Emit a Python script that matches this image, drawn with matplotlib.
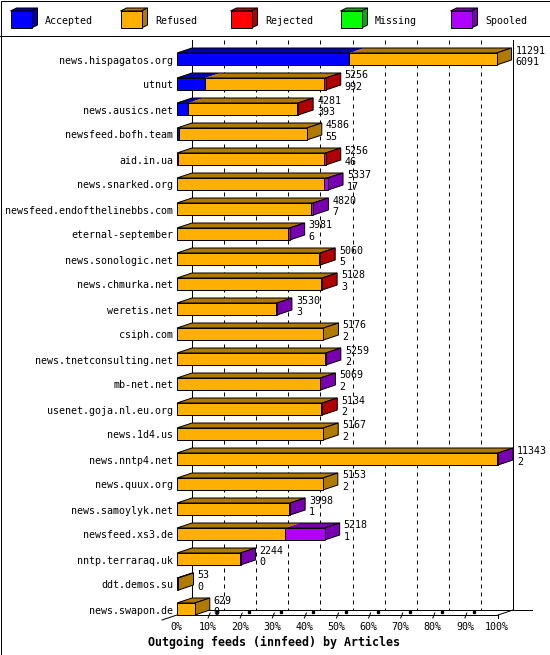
import numpy as np
import matplotlib
matplotlib.use("Agg")
import matplotlib.pyplot as plt
from matplotlib.patches import Polygon, Rectangle

feeds = ["news.hispagatos.org", "utnut", "news.ausics.net", "newsfeed.bofh.team",
         "aid.in.ua", "news.snarked.org", "newsfeed.endofthelinebbs.com",
         "eternal-september", "news.sonologic.net", "news.chmurka.net",
         "weretis.net", "csiph.com", "news.tnetconsulting.net", "mb-net.net",
         "usenet.goja.nl.eu.org", "news.1d4.us", "news.nntp4.net", "news.quux.org",
         "news.samoylyk.net", "newsfeed.xs3.de", "nntp.terraraq.uk",
         "ddt.demos.su", "news.swapon.de"]
offered = [11291, 5256, 4281, 4586, 5256, 5337, 4820, 3981, 5060, 5128, 3530,
           5176, 5259, 5069, 5134, 5167, 11343, 5153, 3998, 5218, 2244, 53, 629]
accepted = [6091, 992, 393, 55, 46, 17, 7, 6, 5, 3, 3, 2, 2, 2, 2, 2, 2, 2,
            1, 1, 0, 0, 0]
refused = [5200, 4204, 3833, 4531, 5140, 5180, 4743, 3925, 5025, 5095, 3497,
           5174, 5227, 5037, 5102, 5165, 11311, 5151, 3967, 3827, 2214, 53, 629]
rejected = [0, 60, 55, 0, 70, 0, 0, 0, 30, 30, 0, 0, 0, 0, 30, 0, 0, 0,
            0, 0, 0, 0, 0]
missing = [0] * 23
spooled = [0, 0, 0, 0, 0, 140, 70, 50, 0, 0, 30, 0, 30, 30, 0, 0, 30, 0,
           30, 1390, 30, 0, 0]

series = ["Accepted", "Refused", "Rejected", "Missing", "Spooled"]
colors = ["#0000ff", "#ffaf00", "#ff0000", "#00ff00", "#af00ff"]
pct_ticks = [0, 10, 20, 30, 40, 50, 60, 70, 80, 90, 100]
title = "Outgoing feeds (innfeed) by Articles"


def shade(c, f=0.69):
    r, g, b = matplotlib.colors.to_rgb(c)
    return (r * f, g * f, b * f)


W, H = 550, 655
LW = 0.72
FONT = "DejaVu Sans Mono"

fig = plt.figure(figsize=(W / 100, H / 100), dpi=100)
fig.patch.set_facecolor("white")

# frame + legend, drawn in pixel space
deco = fig.add_axes([0, 0, 1, 1])
deco.set_xlim(0, W)
deco.set_ylim(H, 0)
deco.axis("off")
deco.add_patch(Rectangle((0.5, 0.5), W - 1, H - 1, fill=False, ec="black", lw=LW))
deco.plot([0, W], [35.5, 35.5], color="black", lw=LW)
for k, (name, c) in enumerate(zip(series, colors)):
    x0 = 10.5 + 110 * k
    deco.add_patch(Polygon([(x0, 11), (x0 + 21, 11), (x0 + 27, 8), (x0 + 6, 8)],
                           fc=shade(c), ec="black", lw=LW))
    deco.add_patch(Polygon([(x0 + 21, 11), (x0 + 27, 8), (x0 + 27, 25), (x0 + 21, 28)],
                           fc=shade(c), ec="black", lw=LW))
    deco.add_patch(Rectangle((x0, 11), 21, 17, fc=c, ec="black", lw=LW))
    deco.text(x0 + 34.5, 24, name, family=FONT, fontsize=7.2, va="baseline")

# main chart: x in articles, y in rows
xmax = max(offered)
n = len(feeds)
ax = fig.add_axes([177 / W, (H - 615) / H, 321 / W, 575 / H])
ax.set_xlim(0, xmax)
ax.set_ylim(n - 1 + 6 / 25, -0.76)
ax.axis("off")

px = xmax / 321.0          # articles per pixel
py = 1 / 25.0              # rows per pixel
DX, DY = 15 * px, 5 * py
HH = 6 * py
y_top = -0.76
floor_front = n - 1 + HH
floor_back = floor_front - DY

# back wall grid
for p in pct_ticks:
    x = xmax * p / 100 + DX
    if p in (0, 100):
        ax.plot([x, x], [y_top, floor_back], color="black", lw=LW, zorder=1,
                clip_on=False)
    else:
        ax.plot([x, x], [y_top, floor_back], color="black", lw=LW, zorder=1,
                dashes=(4, 4), clip_on=False)

# floor
ax.plot([DX, xmax + DX + 19 * px], [floor_back] * 2, color="black", lw=LW,
        zorder=1, clip_on=False)
ax.plot([0, xmax], [floor_front] * 2, color="black", lw=LW, zorder=1, clip_on=False)
ax.plot([-DX, DX], [floor_front + DY, floor_back], color="black", lw=LW, zorder=1,
        clip_on=False)
ax.plot([xmax, xmax + DX], [floor_front, floor_back], color="black", lw=LW,
        zorder=1, clip_on=False)

# ticks and labels
for p in pct_ticks:
    x = xmax * p / 100
    if 0 < p < 100:
        ax.plot([x - px, x + px], [floor_front + 3 * py, floor_front - 2 * py],
                color="black", lw=LW, zorder=1, clip_on=False)
        ax.plot([x + 8 * px], [floor_front - 3 * py], marker="s", ms=1.6,
                color="black", zorder=1, clip_on=False)
    elif p == 100:
        ax.plot([x, x], [floor_front, floor_front + 3 * py], color="black",
                lw=LW, zorder=1, clip_on=False)
    ax.text(x - px, floor_front + 15.5 * py, f"{p}%", family=FONT, fontsize=7.2,
            ha="center", va="baseline", clip_on=False)

# bars
data = np.array([accepted, refused, rejected, missing, spooled]).T
for i in range(n):
    y0 = i - HH
    y1 = i + HH
    left = 0
    last = None
    for j, v in enumerate(data[i]):
        if v <= 0:
            continue
        c = colors[j]
        ax.barh(i, v, left=left, height=2 * HH, color=c, edgecolor="black",
                lw=LW, zorder=3, clip_on=False)
        ax.add_patch(Polygon([(left, y0), (left + v, y0), (left + v + DX, y0 - DY),
                              (left + DX, y0 - DY)], fc=shade(c), ec="none",
                             zorder=2, clip_on=False))
        left += v
        last = c
    tot = left
    ax.add_patch(Polygon([(0, y0), (tot, y0), (tot + DX, y0 - DY), (DX, y0 - DY)],
                         fill=False, ec="black", lw=LW, zorder=2, clip_on=False))
    ax.add_patch(Polygon([(tot, y0), (tot + DX, y0 - DY), (tot + DX, y1 - DY),
                          (tot, y1)], fc=shade(last), ec="black", lw=LW,
                         zorder=2, clip_on=False))
    ax.text(-4 * px, i + 4.5 * py, feeds[i], family=FONT, fontsize=7.2,
            ha="right", va="baseline", clip_on=False)
    ax.text(tot + DX + 4 * px, i - 5.5 * py, str(offered[i]), family=FONT,
            fontsize=7.2, va="baseline", clip_on=False, zorder=4)
    ax.text(tot + DX + 4 * px, i + 6 * py, str(accepted[i]), family=FONT,
            fontsize=7.2, va="baseline", clip_on=False, zorder=4)

fig.text(273.5 / W, 1 - 646 / H, title, family=FONT, fontsize=8.4,
         fontweight="bold", ha="center", va="baseline")

fig.savefig("out.png", dpi=100, facecolor="white")
